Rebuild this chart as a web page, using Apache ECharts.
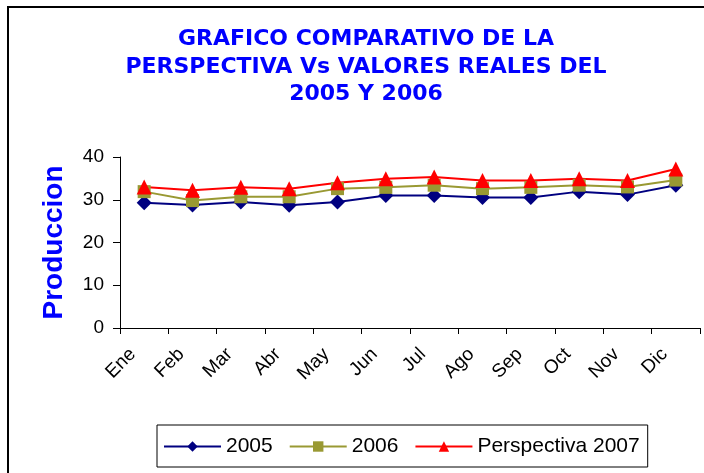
<!DOCTYPE html>
<html>
<head>
<meta charset="utf-8">
<script src="https://cdn.jsdelivr.net/npm/echarts@6/dist/echarts.min.js"></script>
<style>
	html, body {margin: 0; padding: 0; background: #fff}
	#chart {width: 704px; height: 473px}
</style>
</head>
<body>
<div id="chart"></div>
<script>
let meses = ["Ene", "Feb", "Mar", "Abr", "May", "Jun", "Jul", "Ago", "Sep", "Oct", "Nov", "Dic"]
let v2005 = [29.3, 28.8, 29.5, 28.7, 29.5, 31.0, 31.0, 30.5, 30.5, 31.9, 31.2, 33.4]
let v2006 = [31.9, 29.8, 30.7, 30.7, 32.6, 32.9, 33.4, 32.6, 32.9, 33.4, 33.0, 34.6]
let v2007 = [33.0, 32.2, 32.9, 32.6, 34.0, 34.9, 35.3, 34.5, 34.5, 34.9, 34.5, 37.2]
let yTicks = [0, 10, 20, 30, 40]

function serie(name, data, color, symbol, size) {
	return {
		name: name,
		type: "line",
		data: data,
		symbol: symbol,
		symbolSize: size,
		lineStyle: {color: color, width: 2},
		itemStyle: {color: color},
		emphasis: {disabled: true}
	}
}

let chart = echarts.init(document.getElementById("chart"))
let option = {
	animation: false,
	title: {
		text: "GRAFICO COMPARATIVO DE LA\nPERSPECTIVA Vs VALORES REALES DEL\n2005 Y 2006",
		left: 361,
		top: 21,
		textAlign: "center",
		textStyle: {
			color: "#0000ff",
			fontFamily: "DejaVu Sans",
			fontWeight: "bold",
			fontSize: 22,
			lineHeight: 27.5
		}
	},
	graphic: [{
		type: "rect",
		shape: {x: 8, y: 7, width: 720, height: 500},
		style: {fill: null, stroke: "#000", lineWidth: 2},
		silent: true
	}],
	legend: {
		left: 157,
		top: 425,
		width: 493,
		height: 42,
		padding: [11, 8, 10, 6],
		borderColor: "#000",
		borderWidth: 1,
		itemWidth: 57,
		itemHeight: 13,
		itemGap: 16,
		textStyle: {color: "#000", fontFamily: "Liberation Sans", fontSize: 21},
		data: ["2005", "2006", "Perspectiva 2007"]
	},
	grid: {left: 120, right: 4, top: 157, bottom: 145},
	xAxis: {
		type: "category",
		data: meses,
		boundaryGap: true,
		axisLine: {lineStyle: {color: "#000", width: 1}},
		axisTick: {show: true, length: 6, lineStyle: {color: "#000"}},
		axisLabel: {
			rotate: 45,
			color: "#000",
			fontFamily: "Liberation Sans",
			fontSize: 19,
			margin: 12,
			padding: [0, 16, 0, 0]
		}
	},
	yAxis: {
		type: "value",
		min: yTicks[0],
		max: yTicks[yTicks.length - 1],
		interval: 10,
		name: "Produccion",
		nameLocation: "middle",
		nameRotate: 90,
		nameGap: 52,
		nameTextStyle: {color: "#0000ff", fontFamily: "Liberation Sans", fontWeight: "bold", fontSize: 28},
		axisLine: {show: true, lineStyle: {color: "#000"}},
		axisTick: {show: true, length: 7, lineStyle: {color: "#000"}},
		splitLine: {show: false},
		axisLabel: {color: "#000", fontFamily: "Liberation Sans", fontSize: 19, margin: 16}
	},
	series: [
		serie("2005", v2005, "#000080", "diamond", 15),
		serie("2006", v2006, "#999933", "rect", 13),
		serie("Perspectiva 2007", v2007, "#ff0000", "triangle", 15)
	]
}
chart.setOption(option)
</script>
</body>
</html>
